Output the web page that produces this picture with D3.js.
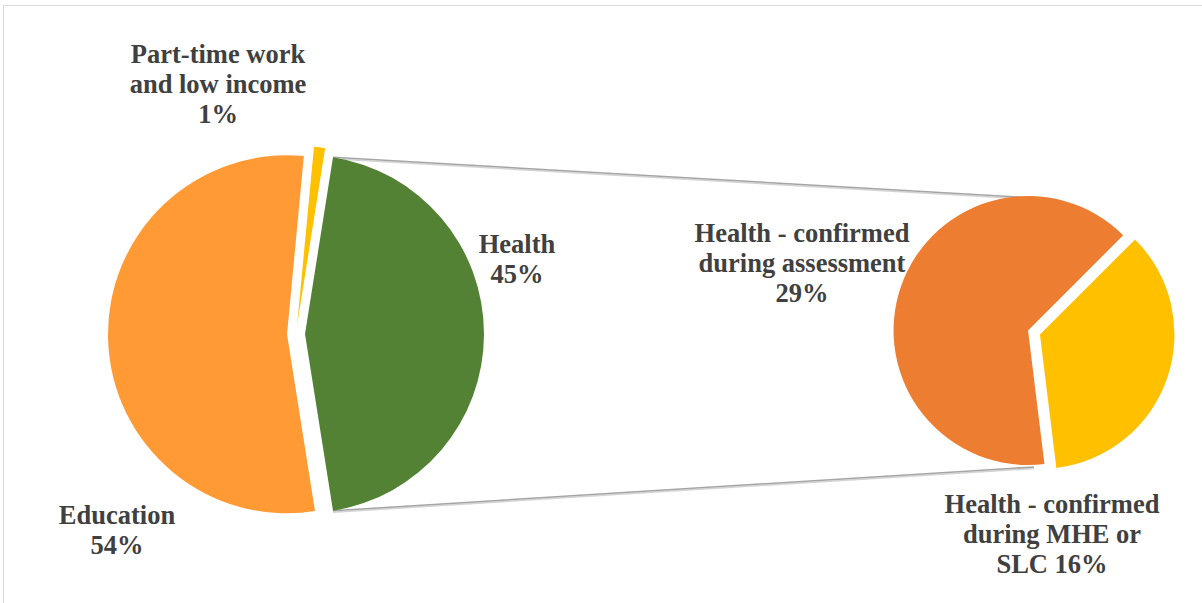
<!DOCTYPE html>
<html>
<head>
<meta charset="utf-8">
<script src="https://cdn.jsdelivr.net/npm/d3@7"></script>
<style>
  html, body { margin: 0; padding: 0; background: #fff; }
  svg { display: block; }
</style>
</head>
<body>
<script>
// Main pie: reasons, with the "Health" slice broken out into the secondary pie
const mainCategories = ["Health", "Education", "Part-time work and low income"];
const mainValues = [45, 54, 1];
// Secondary pie: breakdown of "Health"
const subCategories = ["Health - confirmed during assessment", "Health - confirmed during MHE or SLC"];
const subValues = [29, 16];

const W = 1202, H = 603;
const deg = Math.PI / 180;

const svg = d3.select("body").append("svg")
  .attr("width", W).attr("height", H);

// chart-area frame
svg.append("rect")
  .attr("x", 3.5).attr("y", 5.5)
  .attr("width", W + 20).attr("height", H + 20)
  .attr("fill", "#fff").attr("stroke", "#d9d9d9").attr("stroke-width", 1);

const mainColor = d3.scaleOrdinal()
  .domain(mainCategories)
  .range(["#548235", "#ff9a35", "#ffc000"]);
const subColor = d3.scaleOrdinal()
  .domain(subCategories)
  .range(["#ed7d31", "#ffc000"]);

const main = { cx: 296, cy: 334, r: 179, explode: 9 };
const sub = { cx: 1034, cy: 332.5, r: 134.5, explode: 6.3 };

// "Health" slice is centred on 3 o'clock, facing the secondary pie
const mainTotal = d3.sum(mainValues);
const mainStart = Math.PI / 2 - (mainValues[0] / mainTotal) * Math.PI;
const mainPie = d3.pie().sort(null).value(d => d.v)
  .startAngle(mainStart).endAngle(mainStart + 2 * Math.PI);
const mainArcs = mainPie(mainCategories.map((c, i) => ({ c, v: mainValues[i] })));

const subStart = 173 * deg;
const subPie = d3.pie().sort(null).value(d => d.v)
  .startAngle(subStart).endAngle(subStart + 2 * Math.PI);
const subArcs = subPie(subCategories.map((c, i) => ({ c, v: subValues[i] })));

function offset(a, dist) {
  const m = (a.startAngle + a.endAngle) / 2;
  return [dist * Math.sin(m), -dist * Math.cos(m)];
}

// connector lines from the "Health" slice to the secondary pie
const health = mainArcs[0];
const [hox, hoy] = offset(health, main.explode);
const hx = main.cx + hox, hy = main.cy + hoy;
const connectors = [
  [[hx + main.r * Math.sin(health.startAngle), hy - main.r * Math.cos(health.startAngle)],
   [sub.cx, sub.cy - sub.r]],
  [[hx + main.r * Math.sin(health.endAngle), hy - main.r * Math.cos(health.endAngle)],
   [sub.cx, sub.cy + sub.r]]
];
const lineGen = d3.line();
const conn = svg.append("g");
conn.selectAll("path.shadow").data(connectors).join("path")
  .attr("class", "shadow")
  .attr("d", d => lineGen(d.map(p => [p[0], p[1] + 1.5])))
  .attr("fill", "none").attr("stroke", "#d4d4d4").attr("stroke-width", 1.5);
conn.selectAll("path.line").data(connectors).join("path")
  .attr("class", "line")
  .attr("d", lineGen)
  .attr("fill", "none").attr("stroke", "#a5a5a5").attr("stroke-width", 1.5);

// main pie
const mainArcGen = d3.arc().innerRadius(0).outerRadius(main.r);
svg.append("g").attr("transform", `translate(${main.cx},${main.cy})`)
  .selectAll("path").data(mainArcs).join("path")
  .attr("transform", d => `translate(${offset(d, main.explode)})`)
  .attr("d", mainArcGen)
  .attr("fill", d => mainColor(d.data.c));

// secondary pie
const subArcGen = d3.arc().innerRadius(0).outerRadius(sub.r);
svg.append("g").attr("transform", `translate(${sub.cx},${sub.cy})`)
  .selectAll("path").data(subArcs).join("path")
  .attr("transform", d => `translate(${offset(d, sub.explode)})`)
  .attr("d", subArcGen)
  .attr("fill", d => subColor(d.data.c));

// data labels: anchor point and words per line
const labels = [
  { c: mainCategories[2], v: mainValues[2], x: 218, y: 63, words: [2, 3, 1] },
  { c: mainCategories[0], v: mainValues[0], x: 517, y: 253, words: [1, 1] },
  { c: mainCategories[1], v: mainValues[1], x: 117, y: 524, words: [1, 1] },
  { c: subCategories[0], v: subValues[0], x: 802, y: 242, words: [3, 2, 1] },
  { c: subCategories[1], v: subValues[1], x: 1052, y: 513, words: [3, 3, 2] }
];
function splitLines(l) {
  const w = `${l.c} ${l.v}%`.split(" ");
  const out = []; let k = 0;
  l.words.forEach(n => { out.push(w.slice(k, k + n).join(" ")); k += n; });
  return out;
}
const lbl = svg.append("g")
  .attr("font-family", "'Liberation Serif', 'Times New Roman', serif")
  .attr("font-weight", "bold")
  .attr("font-size", 26.5)
  .attr("fill", "#404040")
  .attr("text-anchor", "middle");
labels.forEach(l => {
  const t = lbl.append("text").attr("x", l.x).attr("y", l.y);
  splitLines(l).forEach((s, i) => {
    t.append("tspan").attr("x", l.x).attr("dy", i === 0 ? 0 : 30).text(s);
  });
});
</script>
</body>
</html>
